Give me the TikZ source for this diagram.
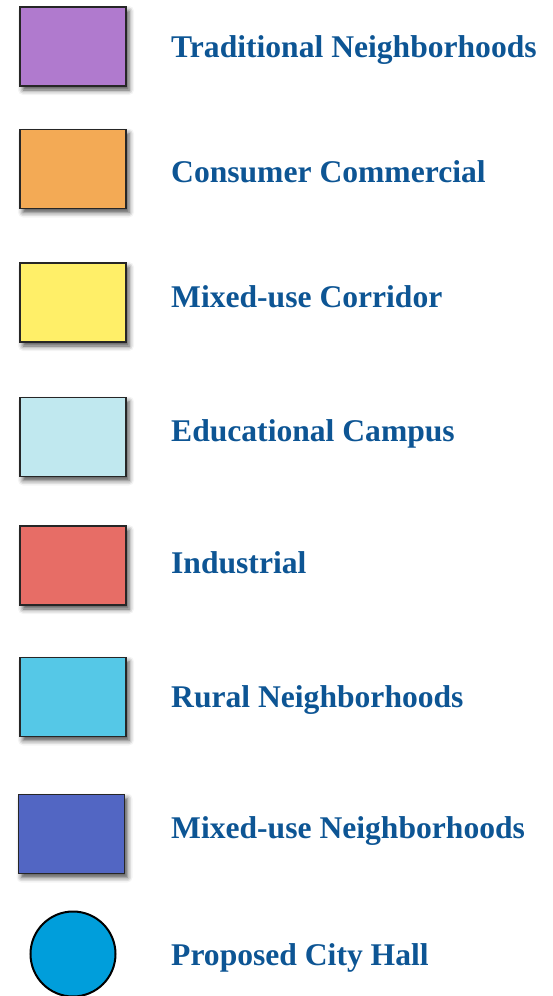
\documentclass[tikz,border=0pt]{standalone}
\usepackage{fontspec}
\setmainfont{Liberation Serif}
\usetikzlibrary{shadows.blur}

\definecolor{labelblue}{HTML}{0D5594}
\definecolor{traditional}{HTML}{B07ACE}
\definecolor{consumer}{HTML}{F3AA55}
\definecolor{corridor}{HTML}{FFEF68}
\definecolor{campus}{HTML}{C0E8EF}
\definecolor{industrial}{HTML}{E76D66}
\definecolor{rural}{HTML}{55C8E7}
\definecolor{mixednbhd}{HTML}{5266C3}
\definecolor{cityhall}{HTML}{009EDB}

\tikzset{
  swatch/.style={rectangle, draw=black!85, line width=1.1pt,
    minimum width=106pt, minimum height=79pt, inner sep=0pt,
    blur shadow={shadow xshift=3pt, shadow yshift=-4pt,
      shadow blur radius=5pt, shadow opacity=70}},
  hallmark/.style={circle, draw=black, line width=2pt,
    minimum size=85pt, inner sep=0pt},
  legendtext/.style={anchor=base west, inner sep=0pt, text=labelblue,
    font=\bfseries\fontsize{31.6}{36}\selectfont}
}

\begin{document}
\begin{tikzpicture}[x=1pt, y=-1pt]
  \useasboundingbox (0,0) rectangle (553,996);

  % colour swatches
  \node[swatch, fill=traditional] (s1) at (73,46.5)  {};
  \node[swatch, fill=consumer]    (s2) at (73,169)   {};
  \node[swatch, fill=corridor]    (s3) at (73,302.5) {};
  \node[swatch, fill=campus]      (s4) at (73,437)   {};
  \node[swatch, fill=industrial]  (s5) at (73,565.5) {};
  \node[swatch, fill=rural]       (s6) at (73,697)   {};
  \node[swatch, fill=mixednbhd]   (s7) at (71.5,834) {};
  \node[hallmark, fill=cityhall]  (s8) at (73,954)   {};

  % legend labels
  \node[legendtext] (t1) at (171,57)  {Traditional Neighborhoods};
  \node[legendtext] (t2) at (171,182) {Consumer Commercial};
  \node[legendtext] (t3) at (171,307) {Mixed-use Corridor};
  \node[legendtext] (t4) at (171,441) {Educational Campus};
  \node[legendtext] (t5) at (171,573) {Industrial};
  \node[legendtext] (t6) at (171,707) {Rural Neighborhoods};
  \node[legendtext] (t7) at (171,838) {Mixed-use Neighborhoods};
  \node[legendtext] (t8) at (171,965) {Proposed City Hall};
\end{tikzpicture}
\end{document}
